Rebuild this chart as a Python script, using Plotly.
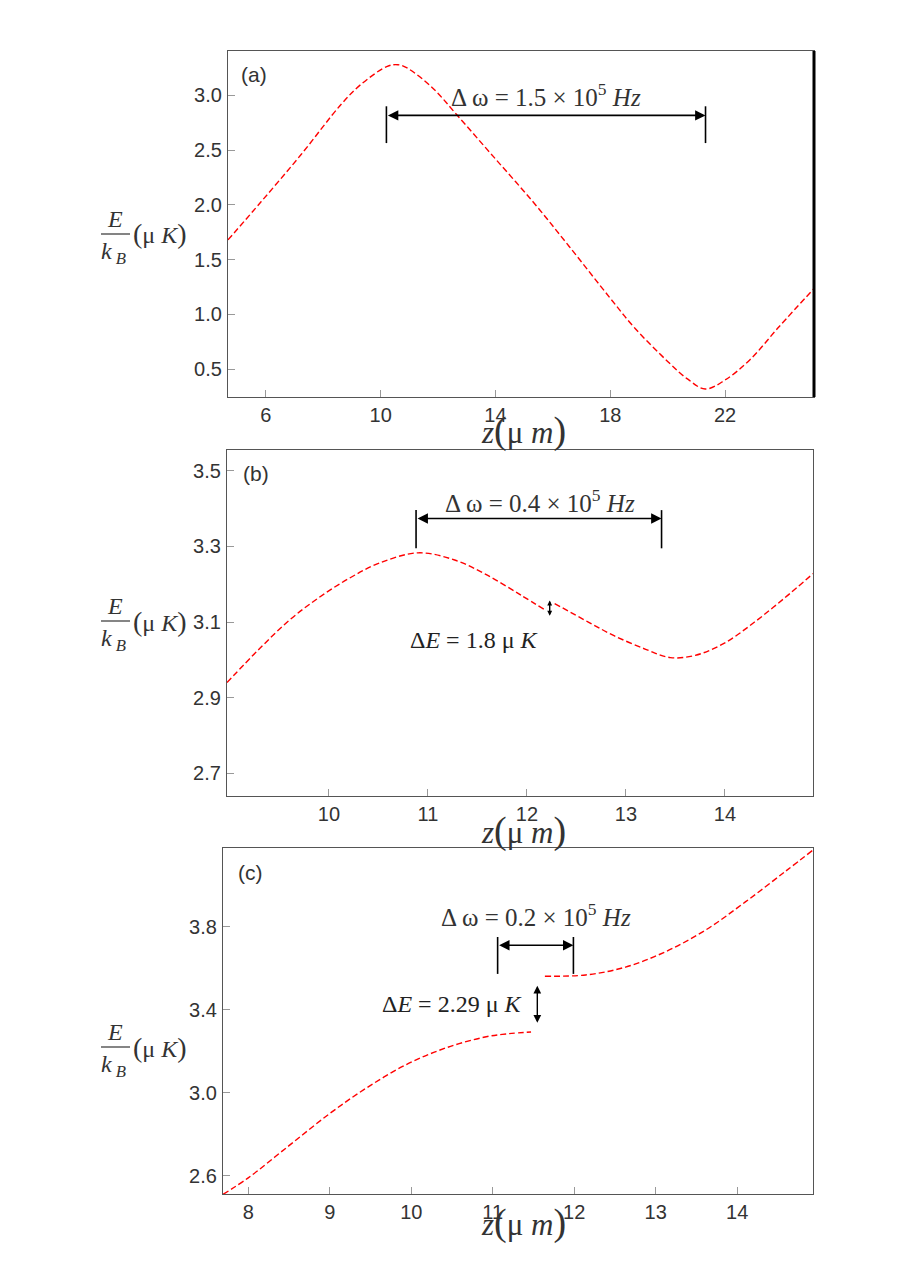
import plotly.graph_objects as go

# ---- data ----
# panel (a)
A_Z = [4.68, 5.84, 7.22, 8.61, 9.30, 10.23, 10.6, 10.92, 11.8, 12.66, 13.93, 15.3,
       16.57, 18.0, 18.86, 20.0, 20.69, 21.31, 22.0, 22.86, 23.89, 25.1]
A_E = [1.68, 2.03, 2.457, 2.914, 3.097, 3.265, 3.28, 3.25, 3.07, 2.82, 2.44, 2.03,
       1.62, 1.147, 0.873, 0.57, 0.41, 0.318, 0.40, 0.583, 0.889, 1.235]

# panel (b), two branches
B1_Z = [8.97, 9.3, 9.6, 9.9, 10.2, 10.5, 10.9, 11.27, 11.6, 11.94, 12.17]
B1_E = [2.94, 3.03, 3.105, 3.165, 3.215, 3.255, 3.283, 3.264, 3.224, 3.171, 3.134]
B2_Z = [12.28, 12.62, 12.88, 13.2, 13.45, 13.7, 14.0, 14.3, 14.6, 14.89]
B2_E = [3.149, 3.10, 3.064, 3.028, 3.006, 3.012, 3.045, 3.10, 3.163, 3.228]

# panel (c), two branches
C1_Z = [7.69, 8.0, 8.5, 9.0, 9.45, 9.94, 10.43, 10.92, 11.2, 11.47]
C1_E = [2.51, 2.59, 2.745, 2.90, 3.023, 3.136, 3.217, 3.27, 3.285, 3.293]
C2_Z = [11.64, 12.14, 12.63, 13.12, 13.61, 14.1, 14.59, 14.93]
C2_E = [3.562, 3.568, 3.606, 3.68, 3.784, 3.92, 4.067, 4.17]

A_XTICKS = [6, 10, 14, 18, 22]
A_YTICKS = [0.5, 1.0, 1.5, 2.0, 2.5, 3.0]
B_XTICKS = [10, 11, 12, 13, 14]
B_YTICKS = [2.7, 2.9, 3.1, 3.3, 3.5]
C_XTICKS = [8, 9, 10, 11, 12, 13, 14]
C_YTICKS = [2.6, 3.0, 3.4, 3.8]

PANEL_TAGS = ["(a)", "(b)", "(c)"]
DW_VALUES = ["1.5", "0.4", "0.2"]
DE_VALUES = [None, "1.8", "2.29"]

SERIF = "Liberation Serif"
SANS = "Liberation Sans"
W, H = 901, 1274


def px(x):
    return x / W


def py(y):
    return 1 - y / H


def note(x, y, text, size, family=SERIF, color="#333", xanchor="center"):
    return dict(xref="paper", yref="paper", x=px(x), y=py(y), text=text,
                showarrow=False, xanchor=xanchor, yanchor="middle",
                font=dict(family=family, size=size, color=color))


fig = go.Figure()

panels = [
    dict(branches=[(A_Z, A_E)], xt=A_XTICKS, yt=A_YTICKS,
         xr=[4.68, 25.1], yr=[0.245, 3.405], box=(220, 806, 43, 389),
         tag=(231, 67), title_line=226,
         bracket=(10.20, 21.32, 2.564, 2.90, 2.817), dw_pos=(15.77, 3.005),
         de=None),
    dict(branches=[(B1_Z, B1_E), (B2_Z, B2_E)], xt=B_XTICKS, yt=B_YTICKS,
         xr=[8.97, 14.89], yr=[2.64, 3.555], box=(219, 805, 442, 788),
         tag=(233, 465), title_line=613,
         bracket=(10.88, 13.36, 3.295, 3.396, 3.374), dw_pos=(12.13, 3.419),
         de=(12.23, 3.113, 3.157, 12.14, 3.052, 0.7)),
    dict(branches=[(C1_Z, C1_E), (C2_Z, C2_E)], xt=C_XTICKS, yt=C_YTICKS,
         xr=[7.69, 14.93], yr=[2.512, 4.18], box=(215, 805, 840, 1186),
         tag=(228, 864), title_line=1039,
         bracket=(11.06, 11.99, 3.573, 3.751, 3.711), dw_pos=(11.53, 3.856),
         de=(11.547, 3.33, 3.516, 11.39, 3.428, 1.1)),
]

xtitle_y = [422, 822, 1214]
annotations = []
shapes = []

for i, p in enumerate(panels):
    n = "" if i == 0 else str(i + 1)
    xa, ya = "x" + n, "y" + n
    for z, e in p["branches"]:
        fig.add_trace(go.Scatter(x=z, y=e, mode="lines", line_shape="spline",
                                 line=dict(color="red", width=1.4, dash="6px,3px"),
                                 xaxis=xa, yaxis=ya, hoverinfo="skip"))
    x0, x1, y0, y1 = p["box"]
    common = dict(showline=True, mirror=True, linecolor="#555", linewidth=1.2,
                  ticks="inside", ticklen=7, tickcolor="#999", tickwidth=1,
                  showgrid=False, zeroline=False,
                  tickfont=dict(family=SANS, size=20, color="#333"))
    fig.update_layout({
        "xaxis" + n: dict(domain=[px(x0), px(x1)], range=p["xr"], tickvals=p["xt"],
                          anchor=ya, **common),
        "yaxis" + n: dict(domain=[py(y1), py(y0)], range=p["yr"], tickvals=p["yt"],
                          tickformat=".1f", anchor=xa, ticklabelstandoff=1, **common),
    })

    # panel tag
    annotations.append(note(p["tag"][0], p["tag"][1], PANEL_TAGS[i], 21, family=SANS,
                            xanchor="left"))

    # y title as a fraction E / k_B (mu K)
    ly = p["title_line"]
    annotations += [
        note(107, ly - 15, "<i>E</i>", 24),
        note(105, ly + 19, "<i>k</i><sub><i> B</i></sub>", 24),
        note(152, ly, '<span style="font-size:28px">(</span>μ <i>K</i>'
                      '<span style="font-size:28px">)</span>', 24),
    ]
    shapes.append(dict(type="line", xref="paper", yref="paper", x0=px(93), x1=px(122),
                       y0=py(ly), y1=py(ly), line=dict(color="#333", width=1.2)))

    # x title
    annotations.append(note(515, xtitle_y[i],
                            '<i>z</i><span style="font-size:38px">(</span>μ <i>m</i>'
                            '<span style="font-size:38px">)</span>', 31))

    # frequency bracket
    bx0, bx1, by0, by1, barrow = p["bracket"]
    for bx in (bx0, bx1):
        shapes.append(dict(type="line", xref=xa, yref=ya, x0=bx, x1=bx, y0=by0, y1=by1,
                           line=dict(color="black", width=1.6)))
    annotations.append(dict(xref=xa, yref=ya, axref=xa, ayref=ya, x=bx1, y=barrow,
                            ax=bx0, ay=barrow, text="", showarrow=True,
                            arrowside="end+start", arrowhead=2, arrowsize=1.3,
                            arrowwidth=1.6, arrowcolor="black", standoff=0,
                            startstandoff=0))
    annotations.append(dict(xref=xa, yref=ya, x=p["dw_pos"][0], y=p["dw_pos"][1],
                            xanchor="center", yanchor="middle",
                            text="Δ ω = " + DW_VALUES[i] + " × 10<sup>5</sup> <i>Hz</i>",
                            showarrow=False, font=dict(family=SERIF, size=25, color="#333")))

    # energy gap
    if p["de"] is not None:
        dz, dy0, dy1, tz, ty, asz = p["de"]
        annotations.append(dict(xref=xa, yref=ya, axref=xa, ayref=ya, x=dz, y=dy1,
                                ax=dz, ay=dy0, text="", showarrow=True,
                                arrowside="end+start", arrowhead=2, arrowsize=asz,
                                arrowwidth=1.4, arrowcolor="black", standoff=0,
                                startstandoff=0))
        annotations.append(dict(xref=xa, yref=ya, x=tz, y=ty, xanchor="right",
                                yanchor="middle",
                                text="Δ<i>E</i> = " + DE_VALUES[i] + " μ <i>K</i>",
                                showarrow=False,
                                font=dict(family=SERIF, size=24, color="#222")))

# thick right border of panel (a)
shapes.append(dict(type="line", xref="paper", yref="paper", x0=px(806), x1=px(806),
                   y0=py(389), y1=py(43), line=dict(color="black", width=3)))

fig.update_layout(width=W, height=H, margin=dict(l=0, r=0, t=0, b=0),
                  paper_bgcolor="white", plot_bgcolor="white", showlegend=False,
                  annotations=annotations, shapes=shapes)

fig.write_html("out.html")
